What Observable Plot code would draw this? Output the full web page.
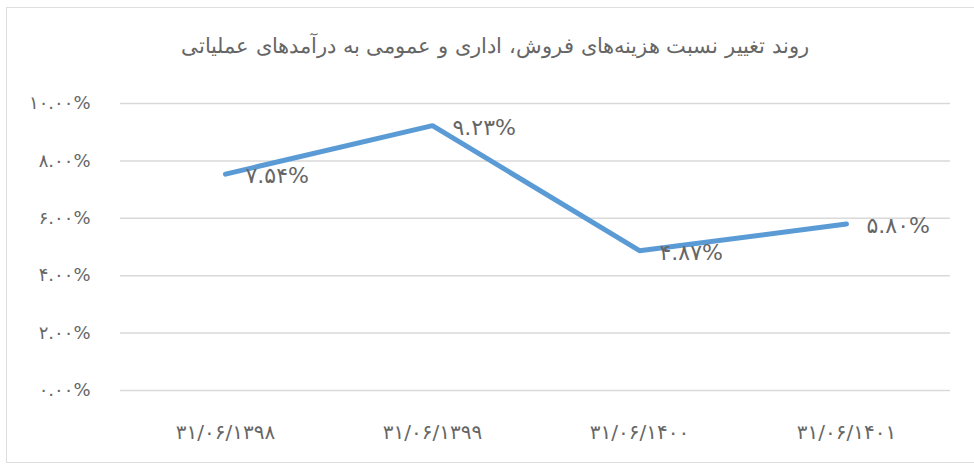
<!DOCTYPE html>
<html>
<head>
<meta charset="utf-8">
<script src="https://cdn.jsdelivr.net/npm/d3@7"></script>
<script src="https://cdn.jsdelivr.net/npm/@observablehq/plot@0.6"></script>
<style>
  html, body { margin: 0; padding: 0; background: #fff; }
  #wrap { position: relative; width: 974px; height: 464px; overflow: hidden; }
  #frame { position: absolute; left: 6px; top: 7px; width: 990px; height: 456px; border: 1.5px solid #dedede; box-sizing: border-box; }
  #title { position: absolute; left: 8px; top: 33px; width: 974px; text-align: center; direction: rtl;
           font-family: "DejaVu Sans", sans-serif; font-size: 21.4px; color: #666666; font-weight: 300; }
  #chart { position: absolute; left: 0; top: 80px; }
</style>
</head>
<body>
<div id="wrap">
  <div id="frame"></div>
  <div id="title">روند تغییر نسبت هزینه‌های فروش، اداری و عمومی به درآمدهای عملیاتی</div>
  <div id="chart"></div>
</div>
<script>
const categories = ["31/06/1398", "31/06/1399", "31/06/1400", "31/06/1401"];
const values = [7.54, 9.23, 4.87, 5.80];
const yTicks = [0, 2, 4, 6, 8, 10];

const fa = s => String(s).replace(/\d/g, d => "۰۱۲۳۴۵۶۷۸۹"[d]);
const data = categories.map((c, i) => ({cat: c, v: values[i]}));

const chart = Plot.plot({
  width: 974,
  height: 384,
  marginLeft: 120,
  marginRight: 24,
  marginTop: 23,
  marginBottom: 74,
  style: {fontFamily: "DejaVu Sans, sans-serif", background: "transparent"},
  x: {type: "point", domain: categories, padding: 0.5, label: null},
  y: {domain: [0, 10], ticks: yTicks, label: null},
  marks: [
    Plot.gridY(yTicks, {stroke: "#d9d9d9", strokeOpacity: 1, strokeWidth: 1.5}),
    Plot.axisY(yTicks, {tickSize: 0, tickPadding: 30, fontSize: 18, fill: "#666666", label: null,
      tickFormat: d => fa(d.toFixed(2)) + "%"}),
    Plot.axisX({tickSize: 0, tickPadding: 34, fontSize: 20, fill: "#666666", label: null,
      tickFormat: d => fa(d)}),
    Plot.line(data, {x: "cat", y: "v", stroke: "#5b9bd5", strokeWidth: 5, strokeLinecap: "round", strokeLinejoin: "miter"}),
    Plot.text(data, {x: "cat", y: "v", text: d => fa(d.v.toFixed(2)) + "%", textAnchor: "start",
      dx: 20, dy: 2, fontSize: 22, fill: "#666666"})
  ]
});
document.getElementById("chart").appendChild(chart);
</script>
</body>
</html>
